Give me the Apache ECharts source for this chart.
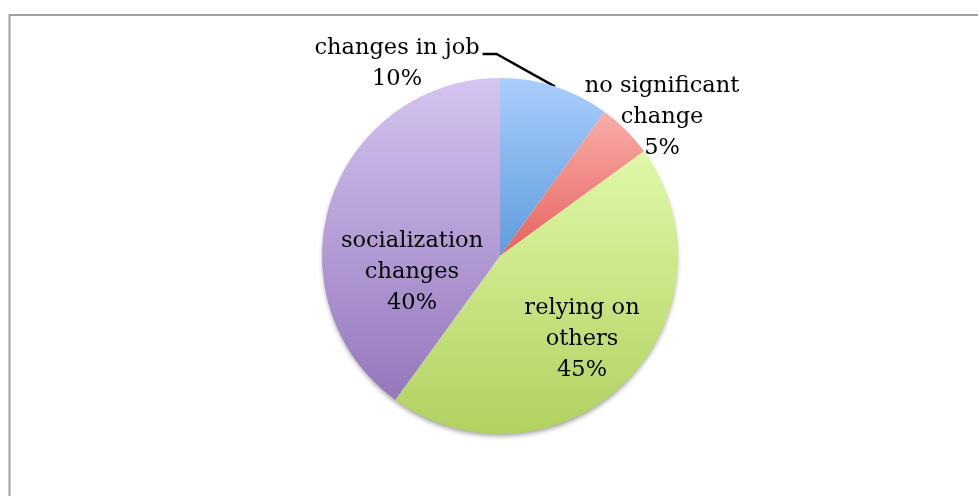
<!DOCTYPE html>
<html>
<head>
<meta charset="utf-8">
<script src="https://cdn.jsdelivr.net/npm/echarts@6/dist/echarts.min.js"></script>
<style>
  html, body { margin: 0; padding: 0; background: #fff; }
  #chart { width: 978px; height: 496px; }
</style>
</head>
<body>
<div id="chart"></div>
<script>
// Share of respondents by type of change
const categories = ['changes in job', 'no significant change', 'relying on others', 'socialization changes'];
const shares = [10, 5, 45, 40];
const labelTexts = ['changes in job', 'no significant\nchange', 'relying on\nothers', 'socialization\nchanges'];

// Vertical gradient (top, bottom) for each slice
const sliceColors = [
  ['#aacefc', '#5d9cdc'],
  ['#f9aea9', '#e6625e'],
  ['#e0f8a8', '#b1d160'],
  ['#d4c4f0', '#9577bc']
];

// Label block centres in the canvas
const labelAnchors = [
  { x: 397, y: 64 },
  { x: 662, y: 117 },
  { x: 582, y: 339 },
  { x: 412, y: 272 }
];

const center = [500, 256];
const radius = 178;
const font = '"DejaVu Serif", "Liberation Serif", serif';

const chart = echarts.init(document.getElementById('chart'), null, { renderer: 'canvas' });

const data = categories.map((name, i) => ({
  name: name,
  value: shares[i],
  itemStyle: {
    color: new echarts.graphic.LinearGradient(0, 0, 0, 1, [
      { offset: 0, color: sliceColors[i][0] },
      { offset: 1, color: sliceColors[i][1] }
    ])
  },
  label: {
    formatter: labelTexts[i] + '\n' + shares[i] + '%'
  },
  labelLine: { show: i === 0 }
}));

chart.setOption({
  backgroundColor: '#ffffff',
  animation: false,
  graphic: [{
    type: 'rect',
    shape: { x: 9.5, y: 15, width: 1000, height: 600 },
    style: { fill: 'none', stroke: '#a0a0a0', lineWidth: 2 },
    silent: true,
    z: 0
  }],
  series: [
    {
      // soft drop shadow under the whole disc
      type: 'pie',
      center: center,
      radius: [0, radius - 1],
      silent: true,
      z: 1,
      label: { show: false },
      labelLine: { show: false },
      data: [{ value: 1, itemStyle: { color: '#ffffff', shadowBlur: 5, shadowOffsetY: 3, shadowColor: 'rgba(0,0,0,0.4)' } }]
    },
    {
      type: 'pie',
      center: center,
      radius: [0, radius],
      startAngle: 90,
      clockwise: true,
      z: 2,
      avoidLabelOverlap: false,
      label: {
        show: true,
        position: 'outside',
        color: '#000000',
        fontFamily: font,
        fontSize: 22.5,
        lineHeight: 31,
        align: 'center'
      },
      labelLine: {
        show: true,
        lineStyle: { color: '#000000', width: 2.5 }
      },
      labelLayout: function (p) {
        const a = labelAnchors[p.dataIndex];
        const out = { x: a.x, y: a.y, align: 'center', verticalAlign: 'middle' };
        if (p.dataIndex === 0 && p.labelLinePoints) {
          const edge = p.labelLinePoints[0];
          const right = a.x + p.labelRect.width / 2 + 3;
          const lineY = a.y - 10;
          out.labelLinePoints = [edge, [right + 14, lineY], [right, lineY]];
        }
        return out;
      },
      data: data
    }
  ]
});
</script>
</body>
</html>
